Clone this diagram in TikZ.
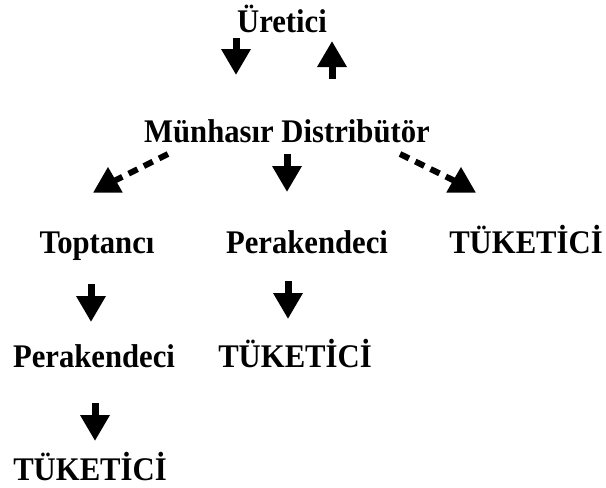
\documentclass[tikz,border=0pt]{standalone}
\usepackage{fontspec}
\setmainfont{Liberation Serif}[FakeStretch=0.93]
\usetikzlibrary{arrows.meta,shapes.geometric}

\tikzset{w/.style={anchor=base,inner sep=0pt,font=\fontsize{33}{38}\selectfont\bfseries}}
\tikzset{a/.style={line width=7pt,-{Triangle[length=26pt,width=28pt]}}}
\tikzset{d/.style={line width=6pt,dash pattern=on 10pt off 7pt}}
\tikzset{tr/.style={regular polygon,regular polygon sides=3,fill,inner sep=0pt,minimum size=34pt}}

\begin{document}
\begin{tikzpicture}[x=1pt,y=1pt]
  \useasboundingbox (0,0) rectangle (606,-488);
  \node[w] (u) at (282,-32) {Üretici};
  \node[w] (m) at (287,-142) {Münhasır Distribütör};
  \node[w] (top) at (97,-253) {Toptancı};
  \node[w] (p1) at (307,-253) {Perakendeci};
  \node[w] (t1) at (526,-253) {TÜKETİCİ};
  \node[w] (p2) at (94,-367) {Perakendeci};
  \node[w] (t2) at (295,-367) {TÜKETİCİ};
  \node[w] (t3) at (90,-480) {TÜKETİCİ};
  \coordinate (tl) at (108,-184);
  \coordinate (tr) at (461,-184);

  \draw[a] ([shift={(-46,-6)}]u.base) -- ([shift={(-51,67)}]m.base);
  \draw[a] ([shift={(45,63)}]m.base) -- ([shift={(50,-9)}]u.base);
  \draw[a] ([shift={(0,-12)}]m.base) -- ([shift={(-20,61)}]p1.base);
  \draw[d] ([shift={(-119,-12)}]m.base) -- (tl);
  \draw[d] ([shift={(113,-12)}]m.base) -- (tr);
  \node[tr] at (tl) {};
  \node[tr] at (tr) {};
  \draw[a] ([shift={(-6,-31)}]top.base) -- ([shift={(-3,45)}]p2.base);
  \draw[a] ([shift={(-19,-28)}]p1.base) -- ([shift={(-7,48)}]t2.base);
  \draw[a] ([shift={(1,-36)}]p2.base) -- ([shift={(5,39)}]t3.base);
\end{tikzpicture}
\end{document}
